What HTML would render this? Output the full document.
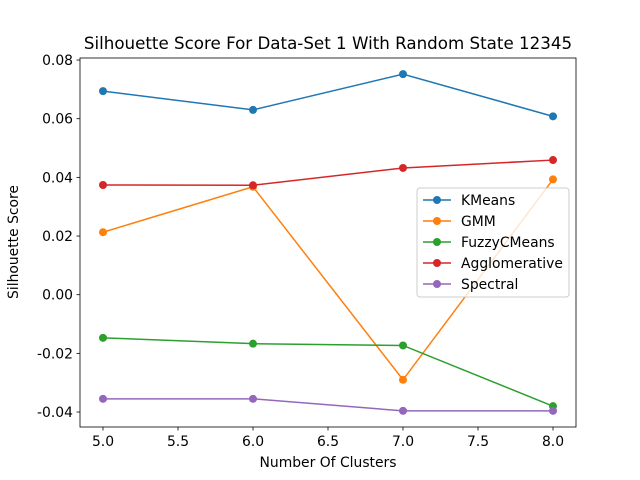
<!DOCTYPE html>
<html><head><meta charset="utf-8"><style>body{margin:0;background:#fff}svg{display:block;font-family:"DejaVu Sans","Liberation Sans",sans-serif}</style></head>
<body>
<svg id="chart" width="640" height="480">
<rect width="640" height="480" fill="#fff"/>
<g id="plot"></g>
</svg>
<script>
const categories=[5,6,7,8];
const seriesNames=["KMeans","GMM","FuzzyCMeans","Agglomerative","Spectral"];
const kmeans=[0.0694,0.0630,0.0752,0.0608];
const gmm=[0.0213,0.0368,-0.0290,0.0393];
const fuzzy=[-0.0147,-0.0167,-0.0173,-0.0380];
const agglom=[0.0374,0.0373,0.0432,0.0459];
const spectral=[-0.0355,-0.0355,-0.0396,-0.0396];
const xTicks=[5.0,5.5,6.0,6.5,7.0,7.5,8.0];
const yTicks=[-0.04,-0.02,0.00,0.02,0.04,0.06,0.08];
const colors=["#1f77b4","#ff7f0e","#2ca02c","#d62728","#9467bd"];
const L=80,R=576,T=58,B=427;
const xs=v=>103+(v-5)*150;
const ys=v=>294.7-v*2933.3;
const NS="http://www.w3.org/2000/svg";
const g=document.getElementById('plot');
function mk(t,a,p){const e=document.createElementNS(NS,t);for(const k in a)e.setAttribute(k,a[k]);(p||g).appendChild(e);return e;}
const frame=mk('rect',{x:L,y:T,width:R-L,height:B-T,fill:'none',stroke:'#000','stroke-width':0.8});


xTicks.forEach(v=>{const x=xs(v);mk('line',{x1:x,x2:x,y1:B,y2:B+3.5,stroke:'#000','stroke-width':0.8});
const t=mk('text',{x:x,y:B+19,'text-anchor':'middle','font-size':13.9});t.textContent=v.toFixed(1);

});
yTicks.forEach(v=>{const y=ys(v);mk('line',{x1:L-3.5,x2:L,y1:y,y2:y,stroke:'#000','stroke-width':0.8});
const t=mk('text',{x:L-7,y:y+5,'text-anchor':'end','font-size':13.9});t.textContent=v.toFixed(2);

});
const all=[kmeans,gmm,fuzzy,agglom,spectral];
all.forEach((s,i)=>{const pts=s.map((v,j)=>xs(categories[j])+','+ys(v)).join(' ');
const pl=mk('polyline',{points:pts,fill:'none',stroke:colors[i],'stroke-width':1.5});


s.forEach((v,j)=>{const c=mk('circle',{cx:xs(categories[j]),cy:ys(v),r:4,fill:colors[i]});

});});
let t=mk('text',{x:328,y:49,'text-anchor':'middle','font-size':16.7});t.textContent='Silhouette Score For Data-Set 1 With Random State 12345';


t=mk('text',{x:328,y:467,'text-anchor':'middle','font-size':13.9});t.textContent='Number Of Clusters';


t=mk('text',{x:0,y:0,'text-anchor':'middle','font-size':13.9,transform:'translate(18,242) rotate(-90)'});t.textContent='Silhouette Score';


const lg=mk('g',{});


mk('rect',{x:417,y:188,width:152,height:109,rx:3,fill:'#fff','fill-opacity':0.8,stroke:'#ccc'},lg);
seriesNames.forEach((n,i)=>{const y=200+i*21;
mk('line',{x1:423,x2:451,y1:y,y2:y,stroke:colors[i],'stroke-width':1.5},lg);
mk('circle',{cx:437,cy:y,r:4,fill:colors[i]},lg);
const e=mk('text',{x:461,y:y+5,'font-size':13.9},lg);e.textContent=n;

});
</script>
</body></html>
